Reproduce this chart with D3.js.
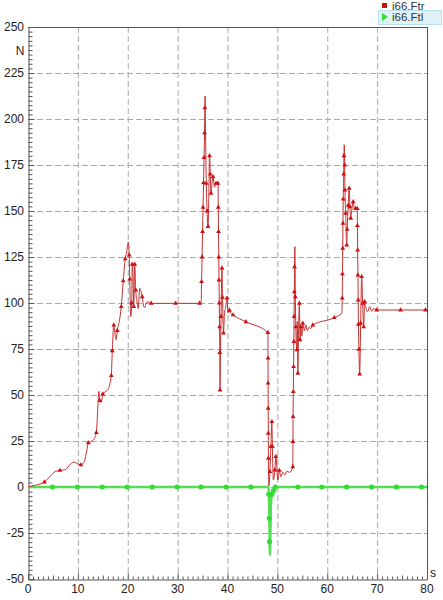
<!DOCTYPE html>
<html><head><meta charset="utf-8">
<script src="https://cdn.jsdelivr.net/npm/d3@7"></script>
<style>html,body{margin:0;padding:0;background:#fff;}svg{display:block;font-family:"Liberation Sans",Arial,sans-serif;}</style>
</head><body>
<svg id="chart" width="443" height="600"></svg>
<script>
// ---- data ----
const ftrT = [0,1.5,3.3,4.5,5.5,6.4,7.5,8.5,9.2,10,10.6,11.3,11.8,12.1,12.5,13.2,13.7,14.0,14.2,14.4,14.7,15.0,16.0,16.7,16.9,17.2,17.5,17.7,17.9,18.3,18.7,19.1,19.5,19.8,20.1,20.3,20.4,20.6,20.8,20.9,21.1,21.2,21.4,21.6,21.9,22.1,22.4,22.7,22.9,23.2,23.4,23.7,24.0,24.7,29.6,34.4,
  34.7,34.8,34.9,35.0,35.1,35.2,35.3,35.4,35.45,35.5,35.6,35.75,35.9,36.1,36.25,36.4,36.55,36.7,36.9,37.1,37.4,37.7,38.0,38.1,38.15,38.2,38.25,38.3,38.35,38.4,38.45,38.5,38.6,38.7,38.9,39.0,39.2,39.4,39.6,39.9,40.1,40.4,40.7,41.1,43.7,48.1,
  48.12,48.14,48.16,48.18,48.2,48.3,48.5,48.7,48.9,49.0,49.2,49.5,49.7,50.1,50.4,50.7,51.1,51.5,51.9,52.5,53.1,53.12,53.15,53.2,53.25,53.3,53.35,53.4,53.45,53.5,53.6,53.7,53.9,54.0,54.1,54.25,54.4,54.55,54.7,54.9,55.1,55.4,55.7,56.0,56.4,56.7,57.1,61.4,
  62.9,63.0,63.05,63.1,63.15,63.2,63.3,63.35,63.4,63.5,63.55,63.7,63.9,64.0,64.2,64.4,64.55,64.7,64.9,65.2,65.45,65.7,66.0,66.05,66.1,66.15,66.2,66.25,66.35,66.5,66.7,66.9,67.1,67.3,67.5,67.8,68.1,68.5,68.9,69.3,69.9,74.7,79.7,80];
const ftrV = [0,1,2.7,6,8.5,9,9.5,12.5,13.5,12.5,12,14,20,24,24.5,26,29.5,43,52,47,46,50.5,53,60.5,74,88,82,80,85,90,98,112,124,128,133,126,113,92.6,100,121,110,98,121,107,100,97,108,106,103.4,98,97.5,100,100.7,99.8,99.8,99.8,
  100,111.6,125,138.8,152,165.4,179,192.4,206,212.5,192,165,150,141.5,158,180,170,159.6,165,168.6,163,165,166,165,152,138.8,125,112.5,100,87,73,52.7,75,92.6,119,103,83.7,95,97,102.7,94.6,96,94.4,93.5,89.8,83.9,
  70,56.4,42.8,29.2,15.6,0.5,8.3,21.9,35.5,22,3.8,9.2,16.5,3.8,9,5.6,8,6.5,8.5,8,11,24.6,38.2,51.8,65.4,79,92.6,106,119.7,130.6,103.4,87,74.5,90,61.8,85,99.8,80,87,82,89,85,88,85,87,86,88,92,
  94.4,102.6,115.8,129.7,143.3,156.4,170,180,186,175,161.4,148.7,131.5,140,153,162.3,152.3,146,150,155,151,151.3,151.3,142,128.8,115.2,101.6,88.4,74.8,61.4,89,114.3,99.8,87,100.7,97,95.3,98,95.5,97,96.2,96.2,96.2,96.2];
const ftrMark = [0,0,1,0,0,1,0,0,0,0,1,0,0,1,0,0,1,0,0,1,0,1,0,1,1,1,0,0,1,0,1,1,1,0,0,1,1,0,1,1,0,1,1,1,0,0,0,0,1,0,0,0,0,1,1,1,
  0,1,1,1,1,1,1,1,1,0,0,1,1,1,0,1,1,1,0,1,0,1,0,1,1,1,1,1,1,1,1,1,0,1,1,1,1,0,0,1,0,1,0,1,1,1,
  1,1,1,1,1,0,1,1,1,1,0,1,1,0,1,0,0,0,0,0,1,1,1,1,1,1,1,1,1,0,1,1,1,0,1,0,1,1,1,0,1,0,0,0,0,0,1,1,
  0,1,1,1,1,1,1,1,0,1,1,1,1,1,1,1,1,1,0,1,0,1,1,1,1,1,1,1,1,1,1,1,1,1,1,0,0,0,0,0,1,1,1,0];

const ftlT = [0,4.9,9.9,14.9,19.9,24.9,29.9,34.7,39.7,44.7,48.2,48.3,48.4,48.45,48.5,48.7,48.9,49.2,49.5,49.6,54.1,58.9,63.9,68.9,73.9,78.9,80];
const ftlV = [0,0,0,0,0,0,0,0,0,0,0,-4,-17,-29.7,-37,-10,-4,-2,-1,0,0,0,0,0,0,0,0];
const ftlMark = [0,1,1,1,1,1,1,1,1,1,0,1,1,1,0,0,1,1,0,1,1,1,1,1,1,1,0];

const xTicks = [0,10,20,30,40,50,60,70,80];
const yTicks = [-50,-25,0,25,50,75,100,125,150,175,200,225,250];
const seriesNames = ["i66.Ftr","i66.Ftl"];
const seriesColors = ["#cc1111","#33dd33"];
const xUnit = "s", yUnit = "N";

// ---- layout ----
const svg = d3.select("#chart");
const L = 28, R = 427, T = 27, B = 579;
const x = d3.scaleLinear().domain([0,80]).range([L,R]);
const y = d3.scaleLinear().domain([-50,250]).range([B,T]);

// grid
const grid = svg.append("g").attr("stroke","#a8a8a8").attr("stroke-dasharray","6,3").attr("stroke-width",1);
xTicks.filter(d=>d>0&&d<80).forEach(d=>grid.append("line").attr("x1",x(d)+0.5).attr("x2",x(d)+0.5).attr("y1",T).attr("y2",B));
yTicks.filter(d=>d>-50&&d<250).forEach(d=>grid.append("line").attr("y1",Math.round(y(d))+0.5).attr("y2",Math.round(y(d))+0.5).attr("x1",L).attr("x2",R));

// axes with inward ticks
const yAxis = d3.axisRight(y).tickValues(d3.range(-50,250.01,2.5)).tickSize(0).tickFormat("");
const gy = svg.append("g").attr("transform",`translate(${L+0.5},0)`).call(yAxis);
gy.selectAll(".tick line").attr("x2",d=> (Math.abs(d%25)<1e-6)?6:4).attr("stroke","#555");
gy.select(".domain").attr("stroke","#555");
const xAxis = d3.axisTop(x).tickValues(d3.range(0,80.01,1)).tickSize(0).tickFormat("");
const gx = svg.append("g").attr("transform",`translate(0,${B+0.5})`).call(xAxis);
gx.selectAll(".tick line").attr("y2",d=> d%10===0?-6:(d%5===0?-4:-3)).attr("stroke","#555");
gx.select(".domain").attr("stroke","#555");
// frame top/right
svg.append("line").attr("x1",L).attr("x2",R+0.5).attr("y1",T+0.5).attr("y2",T+0.5).attr("stroke","#555");
svg.append("line").attr("x1",R+0.5).attr("x2",R+0.5).attr("y1",T).attr("y2",B+0.5).attr("stroke","#555");

// tick labels
svg.append("g").selectAll("text").data(yTicks).join("text")
  .attr("x",24).attr("y",d=>y(d)).attr("dy","0.35em").attr("text-anchor","end")
  .attr("font-size",12).attr("fill","#222").text(d=>d);
svg.append("g").selectAll("text").data(xTicks).join("text")
  .attr("x",d=>x(d)).attr("y",589).attr("dy","0.35em").attr("text-anchor","middle")
  .attr("font-size",12).attr("fill","#222").text(d=>d);
svg.append("text").attr("x",20).attr("y",51).attr("dy","0.35em").attr("text-anchor","middle").attr("font-size",12).attr("fill","#222").text(yUnit);
svg.append("text").attr("x",430).attr("y",573).attr("dy","0.35em").attr("font-size",12).attr("fill","#222").text(xUnit);

// series
const line = d3.line().x(d=>x(d[0])).y(d=>y(d[1])).curve(d3.curveMonotoneX);
const ftr = ftrT.map((t,i)=>[t,ftrV[i],ftrMark[i]]);
const ftl = ftlT.map((t,i)=>[t,ftlV[i],ftlMark[i]]);

svg.append("path").datum(ftl).attr("d",line).attr("fill","none").attr("stroke","#55dd55").attr("stroke-width",2.5);
svg.append("g").selectAll("circle").data(ftl.filter(d=>d[2])).join("circle")
  .attr("cx",d=>x(d[0])).attr("cy",d=>y(d[1])).attr("r",2.6).attr("fill",seriesColors[1]);

svg.append("path").datum(ftr).attr("d",line).attr("fill","none").attr("stroke","#c43030").attr("stroke-width",1);
const tri = d3.symbol().type(d3.symbolTriangle).size(10);
svg.append("g").selectAll("path").data(ftr.filter(d=>d[2])).join("path")
  .attr("d",tri).attr("transform",d=>`translate(${x(d[0])},${y(d[1])})`).attr("fill",seriesColors[0]);

// legend
const lg = svg.append("g");
lg.append("rect").attr("x",378.5).attr("y",10.5).attr("width",63).attr("height",14).attr("fill","#dff2f8").attr("stroke","#b8e0ee");
lg.append("rect").attr("x",382).attr("y",3).attr("width",5).attr("height",5).attr("fill",seriesColors[0]);
lg.append("path").attr("d","M382,13 L388,17 L382,21 Z").attr("fill",seriesColors[1]);
lg.selectAll("text.lt").data(seriesNames).join("text").attr("class","lt")
  .attr("x",392).attr("y",(d,i)=>6+i*11).attr("dy","0.35em").attr("font-size",11.5).attr("fill","#333").text(d=>d);
</script>
</body></html>
